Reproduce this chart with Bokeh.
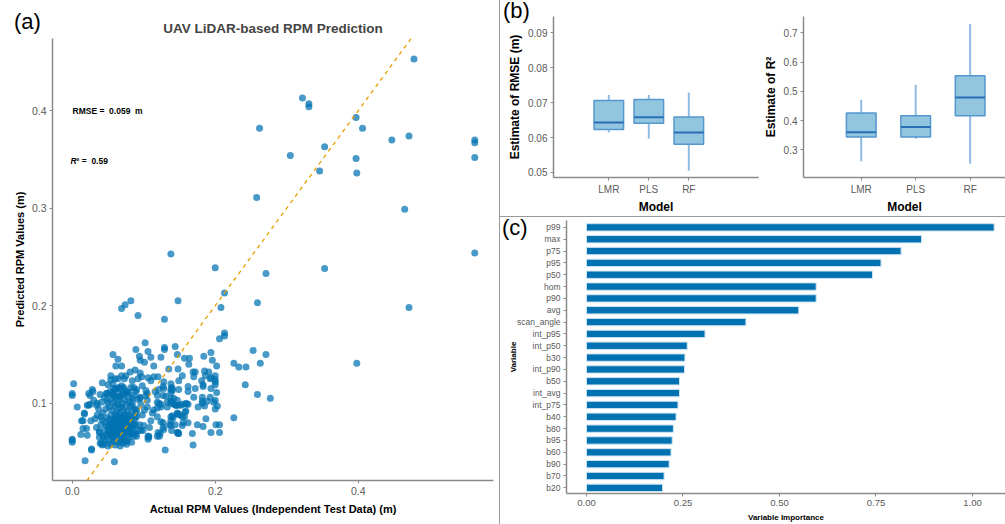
from bokeh.plotting import figure
from bokeh.layouts import row, column
from bokeh.models import Range1d, FixedTicker, Label, Slope, Div, NumeralTickFormatter
from bokeh.embed import file_html
from bokeh.resources import INLINE

FONT = "Liberation Sans"
TICK_COL = "#5a5a5a"
AXIS_COL = "#8a8a8a"

# ---------------- data ----------------
scatter_pairs = [
    (0.478,0.453),(0.322,0.413),(0.331,0.407),(0.331,0.404),(0.262,0.382),(0.397,0.393),(0.406,0.382),
    (0.447,0.370),(0.471,0.374),(0.563,0.370),(0.563,0.367),(0.563,0.352),(0.353,0.363),(0.305,0.354),
    (0.397,0.351),(0.346,0.338),(0.398,0.336),(0.258,0.311),(0.465,0.299),(0.138,0.253),(0.563,0.254),
    (0.200,0.239),(0.353,0.238),(0.271,0.233),(0.213,0.213),(0.148,0.205),(0.082,0.205),(0.074,0.201),
    (0.069,0.197),(0.259,0.203),(0.208,0.198),(0.471,0.198),(0.092,0.190),(0.129,0.186),(0.213,0.172),
    (0.213,0.169),(0.206,0.166),(0.102,0.162),(0.089,0.155),(0.129,0.157),(0.129,0.155),(0.144,0.158),
    (0.253,0.154),(0.194,0.152),(0.057,0.150),(0.147,0.150),(0.271,0.150),(0.094,0.148),(0.184,0.148),
    (0.164,0.146),(0.157,0.146),(0.064,0.145),(0.110,0.147),(0.124,0.147),(0.196,0.144),(0.095,0.144),
    (0.226,0.141),(0.263,0.141),(0.398,0.141),(0.101,0.142),(0.069,0.138),(0.061,0.138),(0.114,0.138),
    (0.202,0.138),(0.233,0.137),(0.243,0.137),(0.088,0.134),(0.185,0.133),(0.169,0.132),(0.172,0.132),
    (0.135,0.135),(0.191,0.132),(0.081,0.132),(0.095,0.131),(0.170,0.127),(0.200,0.128),(0.097,0.127),
    (0.106,0.126),(0.114,0.127),(0.154,0.128),(0.186,0.128),(0.193,0.125),(0.120,0.127),(0.002,0.120),
    (0.054,0.124),(0.183,0.119),(0.242,0.119),(0.200,0.122),(0.200,0.119),(0.138,0.120),(0.194,0.115),
    (0.162,0.117),(0.149,0.114),(0.138,0.114),(0.042,0.121),(0.127,0.117),(0.202,0.111),(0.259,0.109),
    (0.277,0.105),(0.182,0.106),(0.193,0.106),(0.000,0.110),(0.000,0.108),(0.025,0.108),(0.007,0.096),
    (0.185,0.097),(0.203,0.097),(0.226,0.085),(0.187,0.084),(0.201,0.078),(0.206,0.078),(0.175,0.078),
    (0.162,0.080),(0.194,0.070),(0.206,0.070),(0.168,0.069),(0.169,0.057),(0.130,0.052),(0.000,0.063),
    (0.000,0.062),(0.000,0.060),(0.027,0.053),(0.027,0.052),(0.018,0.041),(0.059,0.040),
    (0.017,0.090),(0.017,0.089),(0.013,0.082),(0.015,0.082),(0.020,0.074),(0.015,0.074),(0.021,0.067),
    (0.012,0.068),(0.025,0.099),(0.034,0.098),(0.028,0.114),(0.029,0.112),(0.039,0.109),(0.048,0.110),
    (0.023,0.098),(0.040,0.086),(0.032,0.084),(0.034,0.075),(0.038,0.071),(0.038,0.065),(0.043,0.065),
    (0.039,0.059),(0.041,0.059),
    (0.084,0.101),(0.092,0.104),(0.095,0.106),(0.095,0.105),(0.105,0.110),(0.103,0.108),(0.116,0.112),
    (0.121,0.114),(0.127,0.108),(0.131,0.107),(0.139,0.116),(0.140,0.113),(0.121,0.100),(0.119,0.095),
    (0.124,0.096),(0.138,0.102),(0.142,0.099),(0.148,0.098),(0.154,0.099),(0.158,0.091),(0.151,0.088),
    (0.148,0.089),(0.141,0.085),(0.138,0.082),(0.144,0.078),(0.127,0.080),(0.127,0.075),(0.119,0.086),
    (0.112,0.090),(0.101,0.093),(0.098,0.088),(0.089,0.091),(0.089,0.077),(0.094,0.078),(0.108,0.075),
    (0.107,0.066),(0.107,0.065),(0.119,0.066),(0.123,0.069),(0.128,0.073),(0.136,0.078),(0.139,0.072),
    (0.148,0.070),(0.148,0.069),(0.155,0.080),(0.157,0.086),(0.159,0.092),(0.162,0.099),(0.176,0.096),
    (0.182,0.100),(0.189,0.102),(0.198,0.101),(0.172,0.115),(0.162,0.112),(0.170,0.106),(0.182,0.102),
    (0.081,0.096),(0.083,0.090),(0.078,0.084),(0.074,0.082),(0.088,0.086),(0.090,0.093),(0.076,0.075),
    (0.081,0.074),(0.089,0.069),(0.077,0.061),(0.074,0.061),(0.078,0.070),(0.099,0.072),(0.082,0.116),
    (0.086,0.116),(0.090,0.114),(0.076,0.111),(0.065,0.116),(0.062,0.115),(0.069,0.118),(0.071,0.109),
    (0.058,0.108),(0.054,0.110),(0.064,0.125),(0.060,0.125),(0.069,0.128),(0.075,0.128),(0.073,0.125),
    (0.054,0.128),(0.057,0.120),(0.050,0.119),
    (0.106,0.153),(0.092,0.125),(0.084,0.123),(0.098,0.118),(0.110,0.123),(0.128,0.122),(0.149,0.123),
    (0.058,0.115),(0.072,0.116),(0.077,0.111),(0.089,0.112),(0.103,0.113),(0.119,0.108),(0.128,0.115),
    (0.138,0.111),(0.023,0.110),(0.030,0.103),(0.049,0.103),(0.065,0.106),(0.084,0.105),(0.105,0.103),
    (0.119,0.101),(0.133,0.101),(0.147,0.103),
    (0.021,0.098),(0.035,0.100),(0.026,0.082),(0.042,0.057),(0.068,0.061),(0.087,0.069),(0.090,0.066),
    (0.106,0.066),(0.106,0.063),(0.120,0.070),(0.122,0.066),(0.138,0.086),(0.147,0.089),(0.147,0.070),
    (0.149,0.069),(0.138,0.077),(0.124,0.081),(0.110,0.082),(0.100,0.077),(0.096,0.072),(0.086,0.079),
    (0.077,0.070),(0.072,0.065),(0.105,0.096),(0.114,0.093),(0.124,0.099),(0.133,0.096),(0.145,0.098),
    (0.138,0.100),(0.096,0.099),
    (0.163,0.140),(0.148,0.135),(0.200,0.124),(0.194,0.126),(0.181,0.123),(0.183,0.117),(0.140,0.115),
    (0.138,0.105),(0.142,0.105),(0.200,0.103),
    (0.145,0.098),(0.152,0.098),(0.159,0.100),(0.200,0.094),(0.140,0.087),(0.147,0.090),(0.154,0.086),
    (0.154,0.077),(0.183,0.076),(0.160,0.099),
    (0.045,0.072),(0.048,0.068),(0.050,0.075),(0.052,0.070),(0.053,0.080),(0.055,0.066),(0.056,0.074),
    (0.057,0.083),(0.058,0.070),(0.059,0.077),(0.060,0.064),(0.061,0.072),(0.062,0.086),(0.063,0.079),
    (0.064,0.068),(0.065,0.075),(0.066,0.090),(0.067,0.082),(0.068,0.071),(0.069,0.078),(0.070,0.066),
    (0.071,0.085),(0.072,0.074),(0.073,0.080),(0.074,0.070),(0.075,0.088),(0.076,0.077),(0.078,0.083),
    (0.080,0.072),(0.082,0.079),(0.046,0.080),(0.049,0.085),(0.051,0.062),(0.054,0.088),(0.056,0.093),
    (0.058,0.061),(0.060,0.097),(0.062,0.091),(0.064,0.060),(0.066,0.095),(0.068,0.063),(0.070,0.100),
    (0.072,0.093),(0.074,0.062),(0.077,0.092),(0.079,0.065),(0.081,0.087),(0.083,0.069),(0.085,0.076),
    (0.087,0.082),(0.040,0.078),(0.042,0.083),(0.043,0.090),(0.044,0.066),(0.047,0.094),(0.050,0.100),
    (0.052,0.096),(0.055,0.104),(0.058,0.101),(0.061,0.106),(0.063,0.099),(0.065,0.103),(0.067,0.107),
    (0.069,0.096),(0.071,0.110),(0.073,0.104),(0.076,0.099),(0.078,0.106),(0.080,0.101),(0.084,0.097),
    (0.035,0.088),(0.037,0.094),(0.038,0.070),(0.041,0.101),(0.045,0.106),(0.048,0.110),(0.053,0.112),
    (0.057,0.109),(0.060,0.114),(0.064,0.111),(0.068,0.115),(0.074,0.113),(0.079,0.111),(0.086,0.108),
    (0.088,0.094),(0.090,0.086),(0.092,0.072),(0.086,0.066),(0.083,0.060),(0.076,0.058),(0.054,0.058),
    (0.050,0.056),(0.047,0.061),(0.044,0.058),(0.060,0.057),(0.067,0.056),(0.071,0.059),(0.063,0.071),
    (0.059,0.084),(0.054,0.077),(0.057,0.079),(0.061,0.081),(0.064,0.084),(0.066,0.087),(0.069,0.073),
    (0.071,0.077),(0.066,0.070),(0.062,0.076),(0.059,0.067),(0.055,0.071),(0.052,0.083),(0.048,0.077),
    (0.051,0.073),(0.053,0.067),(0.056,0.078),(0.058,0.074),(0.060,0.080),(0.062,0.069),(0.064,0.077),
    (0.065,0.081),(0.067,0.075),(0.068,0.085),(0.070,0.081),(0.072,0.069),(0.073,0.088),(0.075,0.073),
    (0.077,0.080),(0.079,0.076),(0.080,0.068),(0.082,0.084),(0.084,0.074),(0.060,0.088),(0.057,0.065),
]
actual_rpm = [p[0] for p in scatter_pairs]
predicted_rpm = [p[1] for p in scatter_pairs]

models = ["LMR", "PLS", "RF"]
rmse_lower = [0.0614, 0.0597, 0.0505]
rmse_q1 = [0.0623, 0.0641, 0.0581]
rmse_med = [0.0643, 0.0658, 0.0614]
rmse_q3 = [0.0706, 0.0709, 0.0659]
rmse_upper = [0.0722, 0.0722, 0.0729]

r2_lower = [0.261, 0.338, 0.252]
r2_q1 = [0.344, 0.344, 0.417]
r2_med = [0.360, 0.378, 0.479]
r2_q3 = [0.426, 0.417, 0.553]
r2_upper = [0.471, 0.523, 0.730]

variables = ["p99", "max", "p75", "p95", "p50", "hom", "p90", "avg", "scan_angle", "int_p95",
             "int_p50", "b30", "int_p90", "b50", "int_avg", "int_p75", "b40", "b80", "b95",
             "b60", "b90", "b70", "b20"]
importance = [1.056, 0.868, 0.815, 0.763, 0.741, 0.595, 0.595, 0.550, 0.413, 0.307,
              0.261, 0.255, 0.254, 0.241, 0.241, 0.237, 0.232, 0.225, 0.222,
              0.219, 0.214, 0.201, 0.197]


def style_axes(p, tick_size="10px", label_size="11px"):
    p.grid.visible = False
    p.outline_line_color = None
    p.background_fill_color = "white"
    p.border_fill_color = None
    for ax in (p.xaxis[0], p.yaxis[0]):
        ax.axis_line_color = AXIS_COL
        ax.axis_line_width = 1.5
        ax.major_tick_line_color = AXIS_COL
        ax.major_tick_in = 0
        ax.major_tick_out = 3
        ax.minor_tick_line_color = None
        ax.major_label_text_font = FONT
        ax.major_label_text_font_size = tick_size
        ax.major_label_text_color = TICK_COL
        ax.axis_label_text_font = FONT
        ax.axis_label_text_font_size = label_size
        ax.axis_label_text_font_style = "bold"
        ax.axis_label_text_color = "black"
        ax.major_label_standoff = 3
        ax.axis_label_standoff = 3


def to_data(geom, xpage, ypage):
    fl, fr, ft, fb, x0, x1, y0, y1 = geom
    x = x0 + (xpage - fl) / (fr - fl) * (x1 - x0)
    y = y1 - (ypage - ft) / (fb - ft) * (y1 - y0)
    return x, y


def add_text(p, geom, xpage, ypage, text, size, style="normal", align="left"):
    x, y = to_data(geom, xpage, ypage)
    p.add_layout(Label(x=x, y=y, text=text, text_font=FONT, text_font_size=size,
                       text_font_style=style, text_align=align, text_baseline="middle",
                       text_color="black"))


def letter(text, top, left, fig_height):
    # panel letter laid over the figure's margin
    h = 22
    return Div(text=text, width=34, height=h, margin=(top - fig_height, 0, fig_height - top - h, left),
               styles={"font-family": FONT, "font-size": "22px", "line-height": "22px",
                       "color": "black", "z-index": "5"})


# ---------------- panel (a) ----------------
ax0, ax1, ay0, ay1 = -0.0276, 0.5892, 0.0207, 0.474
geomA = (52, 493, 38, 480, ax0, ax1, ay0, ay1)
pA = figure(width=499, height=524, x_range=Range1d(ax0, ax1), y_range=Range1d(ay0, ay1),
            output_backend="svg", toolbar_location=None,
            min_border_left=52, min_border_right=6, min_border_top=38, min_border_bottom=44)
style_axes(pA, tick_size="10.5px", label_size="11px")
pA.title.text = "UAV LiDAR-based RPM Prediction"
pA.title.align = "center"
pA.title.text_font = FONT
pA.title.text_font_size = "13.5px"
pA.title.text_font_style = "bold"
pA.title.standoff = 6
pA.xaxis.ticker = FixedTicker(ticks=[0.0, 0.2, 0.4])
pA.yaxis.ticker = FixedTicker(ticks=[0.1, 0.2, 0.3, 0.4])
pA.xaxis.formatter = NumeralTickFormatter(format="0.0")
pA.yaxis.formatter = NumeralTickFormatter(format="0.0")
pA.xaxis.axis_label = "Actual RPM Values (Independent Test Data) (m)"
pA.yaxis.axis_label = "Predicted RPM Values (m)"
pA.xaxis.axis_label_standoff = 5
pA.add_layout(Slope(gradient=1, y_intercept=0, line_color="#E69F00", line_dash="4 4", line_width=1.3))
pA.scatter(actual_rpm, predicted_rpm, size=7, fill_color="#0072B2", fill_alpha=0.72, line_color=None)
add_text(pA, geomA, 72, 110, "RMSE\u00a0=\u00a0\u00a00.059\u00a0\u00a0m", "8.5px", "bold")
add_text(pA, geomA, 70, 160, "R", "8.5px", "bold italic")
add_text(pA, geomA, 76, 160, "\u00b2\u00a0=\u00a0\u00a00.59", "8.5px", "bold")


# ---------------- panel (b) ----------------
def box_panel(width, border_left, border_right, xr, yr, ticks, fmt, ylabel, box_w,
              lower, q1, med, q3, upper):
    p = figure(width=width, height=216, x_range=Range1d(*xr), y_range=Range1d(*yr),
               output_backend="svg", toolbar_location=None,
               min_border_left=border_left, min_border_right=border_right,
               min_border_top=16, min_border_bottom=33)
    style_axes(p, tick_size="10px", label_size="12px")
    pos = [i + 1 for i in range(len(models))]
    p.xaxis.ticker = FixedTicker(ticks=pos)
    p.xaxis.major_label_overrides = {i + 1: m for i, m in enumerate(models)}
    p.yaxis.ticker = FixedTicker(ticks=ticks)
    p.yaxis.formatter = NumeralTickFormatter(format=fmt)
    p.xaxis.axis_label = "Model"
    p.yaxis.axis_label = ylabel
    p.xaxis.axis_label_standoff = 2
    p.segment(x0=pos, y0=q3, x1=pos, y1=upper, line_color="#8fbbe2", line_width=2)
    p.segment(x0=pos, y0=q1, x1=pos, y1=lower, line_color="#8fbbe2", line_width=2)
    p.vbar(x=pos, width=box_w, top=q3, bottom=q1, fill_color="#92C5DE",
           line_color="#5597cf", line_width=1.5)
    p.segment(x0=[x - box_w / 2 for x in pos], x1=[x + box_w / 2 for x in pos], y0=med, y1=med,
              line_color="#2a6fb5", line_width=2)
    return p


b1x = (-0.3825, 4.7425)
b1y = (0.04853, 0.0947)
pB1 = box_panel(260, 53, 2, b1x, b1y, [0.05, 0.06, 0.07, 0.08, 0.09], "0.00",
                "Estimate of RMSE (m)", 0.74, rmse_lower, rmse_q1, rmse_med, rmse_q3, rmse_upper)

b2x = (-0.06, 3.649)
b2y = (0.2054, 0.756)
pB2 = box_panel(245, 41, 0, b2x, b2y, [0.3, 0.4, 0.5, 0.6, 0.7], "0.0",
                "Estimate of R\u00b2", 0.545, r2_lower, r2_q1, r2_med, r2_q3, r2_upper)

# ---------------- panel (c) ----------------
n = len(variables)
ypos = [n - i for i in range(n)]
cx = (-0.0518, 1.0855)
cy = (1 - 0.48, n + 0.58)
pC = figure(width=505, height=307, x_range=Range1d(*cx), y_range=Range1d(*cy),
            output_backend="svg", toolbar_location=None,
            min_border_left=66, min_border_right=0, min_border_top=3, min_border_bottom=28)
style_axes(pC, tick_size="9.5px", label_size="8px")
pC.yaxis.major_label_text_font_size = "8.5px"
pC.yaxis.ticker = FixedTicker(ticks=ypos)
pC.yaxis.major_label_overrides = {y: v for y, v in zip(ypos, variables)}
pC.yaxis.axis_label_standoff = -4
pC.xaxis.ticker = FixedTicker(ticks=[0.0, 0.25, 0.5, 0.75, 1.0])
pC.xaxis.formatter = NumeralTickFormatter(format="0.00")
pC.xaxis.axis_label = "Variable Importance"
pC.yaxis.axis_label = "Variable"
pC.xaxis.major_label_standoff = 3
pC.xaxis.axis_label_standoff = 4
pC.hbar(y=ypos, right=importance, left=0, height=0.62, fill_color="#0072B2",
        line_color="#cfe2f1", line_width=1)

# separators and panel letters
vsep = Div(text="", width=1, height=524, margin=0, styles={"background-color": "#9a9a9a"})
hsep = Div(text="", width=505, height=1, margin=0, styles={"background-color": "#9a9a9a"})

left_col = column(pA, letter("(a)", 11, 14, 524))
b_block = column(row(pB1, pB2), letter("(b)", 0, 3, 216))
c_block = column(pC, letter("(c)", 0, 2, 307))
layout = row(left_col, vsep, column(b_block, hsep, c_block))

open("out.html", "w").write(file_html(layout, INLINE))
